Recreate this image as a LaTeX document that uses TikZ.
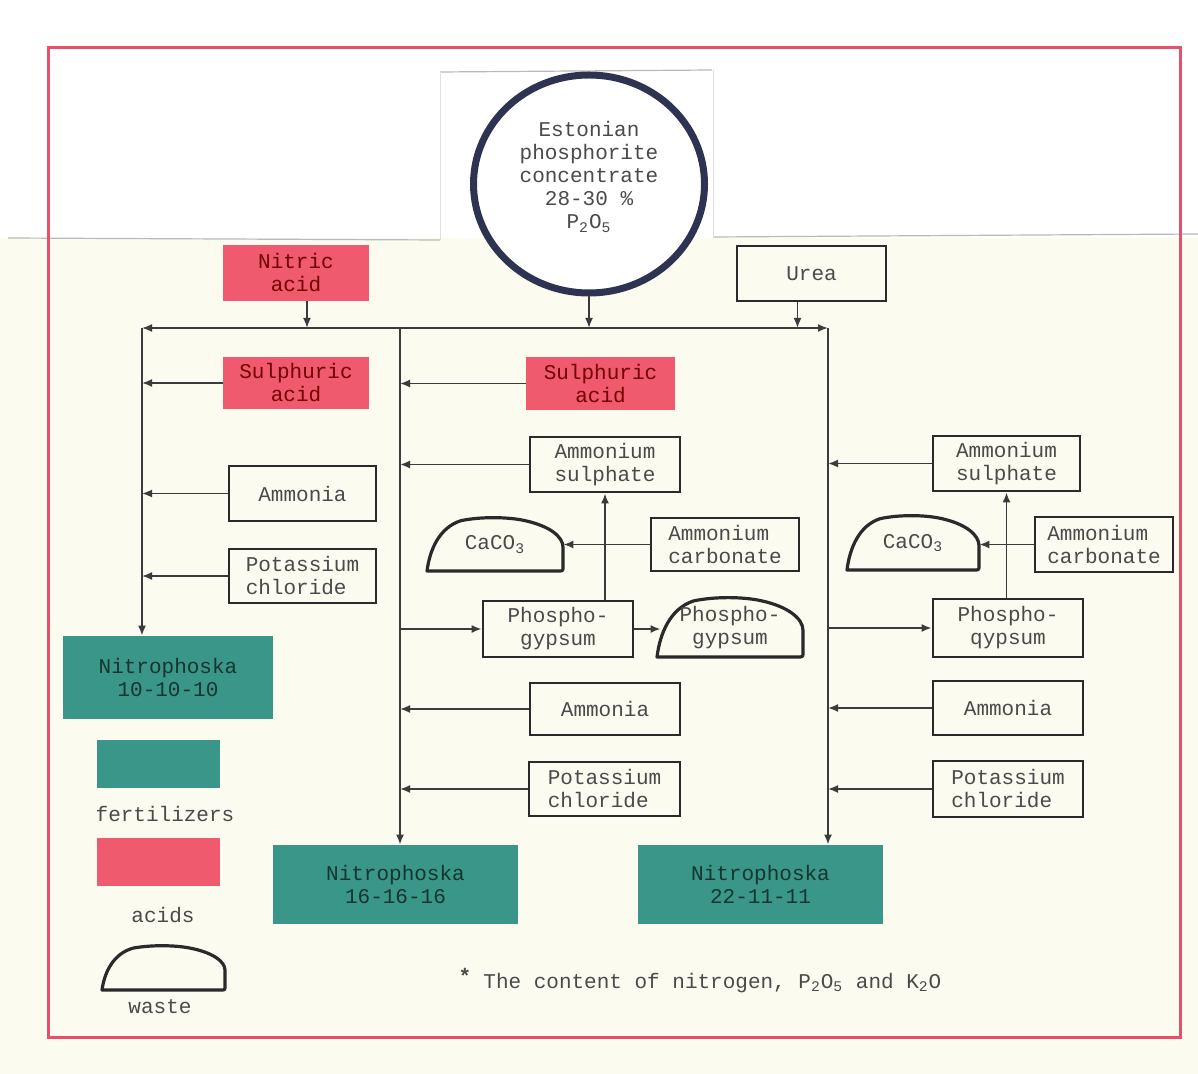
\documentclass[tikz,border=0pt]{standalone}
\usepackage{fontspec}
\newfontfamily\tw{Liberation Mono}
\usetikzlibrary{arrows.meta,calc,shapes.geometric}
\definecolor{acidred}{HTML}{EF5A6E}
\definecolor{fert}{HTML}{3A9688}
\definecolor{framered}{HTML}{E8506A}
\definecolor{ink}{HTML}{4A4A4A}
\definecolor{edgec}{HTML}{2A2A2A}
\definecolor{navy}{HTML}{2D3350}
\definecolor{cream}{HTML}{FCFBF0}
\tikzset{
 lbl/.style={font=\tw\fontsize{10.5}{11.5}\selectfont, text=ink, align=center, inner sep=0pt},
 whitebox/.style={lbl, draw=edgec, line width=1.4pt},
 redbox/.style={lbl, fill=acidred, text=red!45!black},
 tealbox/.style={lbl, fill=fert, text=fert!35!black},
 wastetext/.style={lbl},
 wasteline/.style={draw=edgec, line width=1.6pt, line join=round},
 flow/.style={draw=ink!80!black, line width=0.9pt},
 arr/.style={flow, -{Latex[length=5pt,width=4pt]}},
 biarr/.style={flow, {Latex[length=5pt,width=4pt]}-{Latex[length=5pt,width=4pt]}},
 pasteedge/.style={draw=gray!55, line width=0.6pt},
}
\newcommand{\placebox}[7]{%
  \pgfmathsetmacro{\pbw}{(#5-#3)/2}\pgfmathsetmacro{\pbh}{(#6-#4)/2}%
  \node[#1, minimum width=\pbw pt, minimum height=\pbh pt] (#2) at ({(#3+#5)/2},{(#4+#6)/2}) {#7};}
\newcommand{\wastebox}[6]{%
  \pgfmathsetmacro{\wbw}{(#4-#2)/2}\pgfmathsetmacro{\wbh}{(#5-#3)/2}%
  \begin{scope}[shift={(#2,#5)}, x=\wbw pt, y=\wbh pt]
    \draw[wasteline] (0,0) -- (0.96,0) .. controls (1,0) .. (1,0.08) -- (1,0.45)
      .. controls (1,0.65) and (0.9,0.85) .. (0.72,0.95)
      .. controls (0.6,1.02) and (0.4,1.03) .. (0.25,0.95)
      .. controls (0.09,0.82) and (0.02,0.4) .. (0,0) -- cycle;
  \end{scope}
  \node[wastetext, minimum width=\wbw pt, minimum height=\wbh pt] (#1) at ({(#2+#4)/2},{(#3+#5)/2}) {#6};}

\begin{document}
\begin{tikzpicture}[x=0.5pt,y=-0.5pt]
\useasboundingbox (0,0) rectangle (1198,1074);
% paper background and pasted strips
\fill[cream] (0,0) rectangle (1198,1074);
\fill[white] (0,0) rectangle (1198,238);
\draw[pasteedge] (8,238) -- (440,240);
\draw[pasteedge] (440,72) -- (712,70);
\draw[pasteedge] (713,237) -- (1198,234);
\draw[draw=gray!25, line width=0.5pt] (440,72) -- (440,240);
\draw[draw=gray!25, line width=0.5pt] (713,70) -- (713,237);
% red frame
\draw[framered, line width=1.5pt] (48,48) rectangle (1180,1037);

% source
\node[ellipse, draw=navy, line width=3.5pt, fill=white, minimum width=115.5pt, minimum height=109pt] (circ) at (589,184) {};
\node[lbl] (circtext) at (589,177)
  {Estonian\\phosphorite\\concentrate\\28-30 \%\\P\textsubscript{2}O\textsubscript{5}};

% top inputs
\placebox{redbox}{nitric}{223}{245}{369}{301}{Nitric\\acid}
\placebox{whitebox}{urea}{737}{246}{886}{301}{Urea}

% left column
\placebox{redbox}{sulphL}{223}{357}{369}{409}{Sulphuric\\acid}
\placebox{whitebox}{ammoniaL}{229}{466}{376}{521}{Ammonia}
\placebox{whitebox, align=left}{kclL}{229}{549}{376}{603}{Potassium\\chloride}
\placebox{tealbox}{nitroA}{63}{636}{273}{719}{Nitrophoska\\10-10-10}

% middle column
\placebox{redbox}{sulphM}{526}{357}{675}{410}{Sulphuric\\acid}
\placebox{whitebox}{ammsulphM}{530}{437}{680}{492}{Ammonium\\sulphate}
\wastebox{cacoM}{427}{518}{563}{571}{CaCO\textsubscript{3}}
\placebox{whitebox, align=left}{ammcarbM}{651}{518}{799}{571}{Ammonium\\carbonate}
\placebox{whitebox}{phosphoM}{483}{601}{633}{657}{Phospho-\\gypsum}
\wastebox{pwasteM}{657}{598}{803}{657}{Phospho-\\gypsum}
\placebox{whitebox}{ammoniaM}{530}{683}{680}{735}{Ammonia}
\placebox{whitebox, align=left}{kclM}{529}{762}{680}{816}{Potassium\\chloride}
\placebox{tealbox}{nitroB}{273}{845}{518}{924}{Nitrophoska\\16-16-16}

% right column
\placebox{whitebox}{ammsulphR}{933}{436}{1080}{491}{Ammonium\\sulphate}
\wastebox{cacoR}{847}{516}{979}{570}{CaCO\textsubscript{3}}
\placebox{whitebox, align=left}{ammcarbR}{1035}{517}{1173}{572}{Ammonium\\carbonate}
\placebox{whitebox}{phosphoR}{933}{599}{1083}{657}{Phospho-\\qypsum}
\placebox{whitebox}{ammoniaR}{933}{681}{1083}{735}{Ammonia}
\placebox{whitebox, align=left}{kclR}{933}{761}{1083}{817}{Potassium\\chloride}
\placebox{tealbox}{nitroC}{638}{845}{883}{924}{Nitrophoska\\22-11-11}

% legend
\placebox{tealbox}{legF}{97}{740}{220}{788}{}
\node[lbl] (legFt) at (165,814) {fertilizers};
\placebox{redbox}{legA}{97}{838}{220}{886}{}
\node[lbl] (legAt) at (163,915) {acids};
\wastebox{legW}{102}{946}{225}{990}{}
\node[lbl] (legWt) at (160,1007) {waste};

% footnote
\node[lbl, font=\tw\bfseries\fontsize{10.5}{11.5}\selectfont] (star) at (465,976) {*};
\node[lbl, anchor=west] (note) at (483,983) {The content of nitrogen, P\textsubscript{2}O\textsubscript{5} and K\textsubscript{2}O};

% distribution bus
\coordinate (busL) at (142,328);
\coordinate (busM) at (400,328);
\coordinate (busR) at (828,328);
\draw[biarr] (busL) -- (busR);
\draw[arr] (busL) -- (busL |- nitroA.north);
\draw[arr] (busM) -- (busM |- nitroB.north);
\draw[arr] (busR) -- (busR |- nitroC.north);
\draw[arr] ([xshift=5.5pt]nitric.south) coordinate (nA) -- (nA |- busL);
\draw[arr] (circ.south) -- (circ.south |- busL);
\draw[arr] ([xshift=-7pt]urea.south) coordinate (uA) -- (uA |- busL);

% left inputs
\foreach \n in {sulphL,ammoniaL,kclL} \draw[arr] (\n.west) -- (\n.west -| busL);
% middle
\foreach \n in {sulphM,ammsulphM,ammoniaM,kclM} \draw[arr] (\n.west) -- (\n.west -| busM);
\draw[arr] (phosphoM.west -| busM) -- (phosphoM.west);
\draw[arr] (phosphoM.north -| ammsulphM.south) -- (ammsulphM.south);
\draw[arr] (ammcarbM.west) -- (ammcarbM.west -| cacoM.east);
\draw[arr] (phosphoM.east) -- ([xshift=2pt]phosphoM.east -| pwasteM.west);
% right
\foreach \n in {ammsulphR,ammoniaR,kclR} \draw[arr] (\n.west) -- (\n.west -| busR);
\draw[arr] (phosphoR.west -| busR) -- (phosphoR.west);
\draw[arr] (phosphoR.north -| ammsulphR.south) -- (ammsulphR.south);
\draw[arr] (ammcarbR.west) -- (ammcarbR.west -| cacoR.east);
\end{tikzpicture}
\end{document}
